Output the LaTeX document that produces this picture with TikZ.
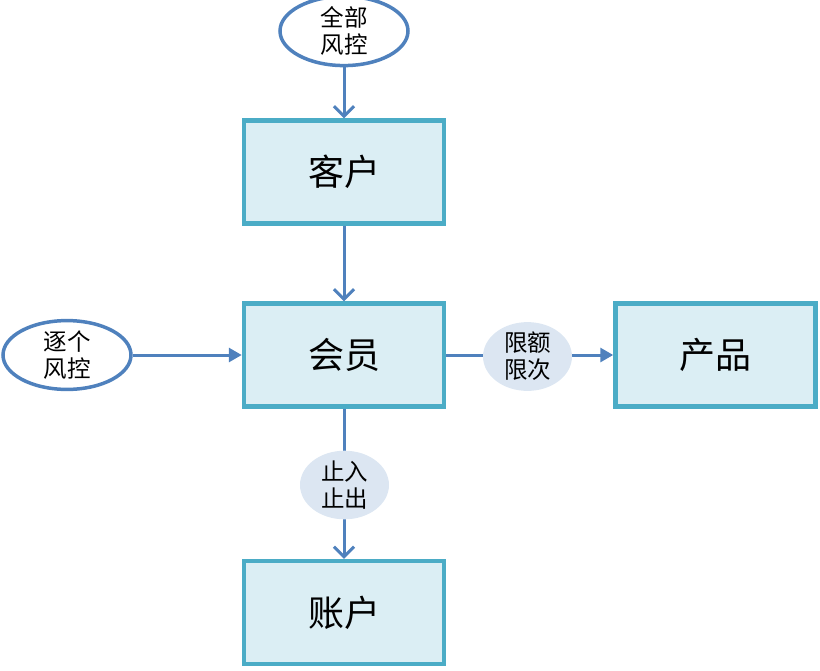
\documentclass[tikz,border=0pt]{standalone}
\usepackage{fontspec}
\newfontfamily\cjk{Noto Sans CJK SC}
\usetikzlibrary{arrows.meta,shapes.geometric}
\definecolor{boxline}{RGB}{75,172,198}
\definecolor{boxfill}{RGB}{219,238,244}
\definecolor{arrowblue}{RGB}{79,129,189}
\definecolor{labfill}{RGB}{220,230,242}
\tikzset{
  mainbox/.style={draw=boxline, line width=4.5pt, fill=boxfill, minimum width=200pt, minimum height=103pt, inner sep=0pt, font=\cjk\fontsize{36}{40}\selectfont},
  riskell/.style={ellipse, draw=arrowblue, line width=3.5pt, fill=white, minimum width=128pt, minimum height=55pt, inner sep=0pt, align=center, font=\cjk\fontsize{23.5}{27}\selectfont},
  labell/.style={ellipse, fill=labfill, minimum width=89pt, minimum height=55pt, inner sep=0pt, align=center, font=\cjk\fontsize{23.5}{27}\selectfont},
  conn/.style={draw=arrowblue, line width=3pt},
  openarr/.style={conn, -{Straight Barb[length=10pt,width=20pt,line width=3pt]}},
  fillarr/.style={conn, -{Triangle[length=13pt,width=14pt]}}
}
\begin{document}
\begin{tikzpicture}[x=1pt,y=-1pt]
\useasboundingbox (0,0) rectangle (820,670);
\node[mainbox] (kehu) at (344,172) {客户};
\node[mainbox] (huiyuan) at (344,355) {会员};
\node[mainbox] (chanpin) at (715.5,355) {产品};
\node[mainbox] (zhanghu) at (344,612.5) {账户};
\node[riskell] (all) at (344,31) {全部\\风控};
\node[riskell] (each) at (67,355) {逐个\\风控};
% connectors
\draw[openarr] (all) -- (kehu);
\draw[openarr] (kehu) -- (huiyuan);
\draw[fillarr] (each) -- (huiyuan);
\draw[fillarr] (huiyuan) -- (chanpin);
\draw[openarr] (huiyuan) -- (zhanghu);
\node[labell] (xian) at (527.5,356.5) {限额\\限次};
\node[labell] (zhi) at (344.5,485) {止入\\止出};
\end{tikzpicture}
\end{document}
